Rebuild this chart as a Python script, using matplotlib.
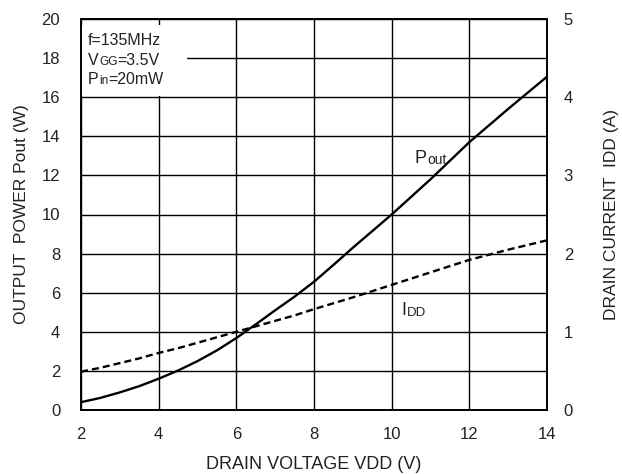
import matplotlib
matplotlib.use("Agg")
import matplotlib.pyplot as plt
from matplotlib.patches import Rectangle

plt.rcParams['font.family'] = ['Liberation Sans', 'DejaVu Sans']

vdd = [2, 2.5, 3, 3.5, 4, 4.5, 5, 5.5, 6, 6.5, 7, 7.5, 8, 8.5, 9, 9.5, 10, 11, 12, 13, 14]
pout = [0.4, 0.62, 0.9, 1.22, 1.6, 2.02, 2.5, 3.05, 3.68, 4.38, 5.1, 5.8, 6.56, 7.42, 8.3, 9.15, 10.0, 11.8, 13.7, 15.4, 17.05]
idd = [0.49, 0.54, 0.6, 0.66, 0.73, 0.79, 0.86, 0.93, 1.0, 1.07, 1.14, 1.21, 1.29, 1.365, 1.44, 1.52, 1.6, 1.76, 1.92, 2.05, 2.17]

xticks = [2, 4, 6, 8, 10, 12, 14]
yticks_left = list(range(0, 21, 2))
yticks_right = [0, 1, 2, 3, 4, 5]

TXT = '#222222'

fig = plt.figure(figsize=(6.22, 4.74), dpi=100)
ax = fig.add_axes([81/622, 1-410/474, (547-81)/622, (410-19)/474])
ax2 = ax.twinx()

ax.set_xlim(2, 14)
ax.set_ylim(0, 20)
ax2.set_ylim(0, 5)
ax.set_xticks(xticks)
ax.set_yticks(yticks_left)
ax2.set_yticks(yticks_right)

ax.grid(True, color='black', linewidth=1.0)
ax.set_axisbelow(True)
for a in (ax, ax2):
    for s in a.spines.values():
        s.set_linewidth(1.2)
        s.set_color('black')
ax.tick_params(axis='both', length=0, labelsize=12, colors=TXT)
ax.tick_params(axis='y', pad=15)
ax.tick_params(axis='x', pad=12)
ax2.tick_params(axis='y', length=0, labelsize=12, pad=12, colors=TXT)

ax.plot(vdd, pout, color='black', lw=1.7, zorder=3)
ax2.plot(vdd, idd, color='black', lw=1.7, dashes=(3, 1.7), zorder=3)


def compose(axis, x, y, parts):
    """Draw text pieces side by side sharing a baseline."""
    prev = axis.text(x, y, parts[0][0], fontsize=parts[0][1], va='baseline',
                     ha='left', color=TXT, zorder=5)
    for s, fs in parts[1:]:
        prev = axis.annotate(s, xy=(1, 0), xycoords=prev, xytext=(0.2, 0),
                             textcoords='offset points', fontsize=fs,
                             va='bottom', ha='left', color=TXT, zorder=5)
    return prev


# white box behind condition text
ax.add_patch(Rectangle((2.0, 16.05), 2.73, 3.65, facecolor='white', edgecolor='none', zorder=2))
compose(ax, 2.18, 18.65, [('f=135MHz', 11.5)])
compose(ax, 2.18, 17.65, [('V', 11.5), ('GG', 8.5), ('=3.5V', 11.5)])
compose(ax, 2.18, 16.65, [('P', 11.5), ('in', 8.5), ('=20mW', 11.5)])

compose(ax, 10.6, 12.62, [('P', 13), ('out', 10)])
compose(ax, 10.25, 4.85, [('I', 13), ('DD', 9.5)])

ax.set_xlabel('DRAIN VOLTAGE VDD (V)', fontsize=13, labelpad=10, color=TXT)
ax.set_ylabel('OUTPUT  POWER Pout (W)', fontsize=12.5, labelpad=9, color=TXT)
ax2.set_ylabel('DRAIN CURRENT  IDD (A)', fontsize=12.5, labelpad=22, color=TXT, rotation=90)

fig.savefig('out.png', dpi=100)
